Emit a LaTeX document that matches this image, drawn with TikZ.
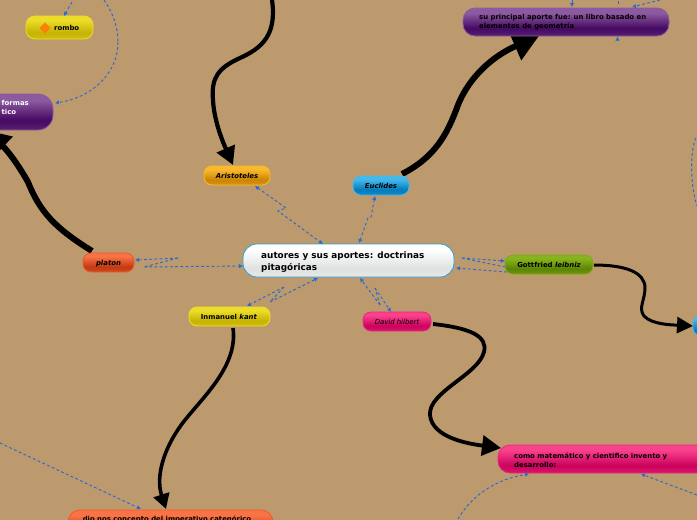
\documentclass[tikz,border=0pt]{standalone}
\usepackage{fontspec}
\setmainfont{DejaVu Sans}
\usetikzlibrary{arrows.meta}
\definecolor{bg}{RGB}{189,154,109}
\definecolor{linkb}{RGB}{40,105,210}
\newcommand{\glossdef}[4]{\pgfdeclareverticalshading{#1}{100bp}{color(0bp)=(#4);color(12bp)=(#4);color(36bp)=(#3);color(40bp)=(#3);color(66bp)=(#2);color(100bp)=(#2)}}
\definecolor{yA}{RGB}{236,222,40}\definecolor{yB}{RGB}{200,180,5}\definecolor{yC}{RGB}{222,205,30}
\definecolor{pA}{RGB}{140,90,160}\definecolor{pB}{RGB}{72,12,100}\definecolor{pC}{RGB}{110,60,130}
\definecolor{oA}{RGB}{250,185,45}\definecolor{oB}{RGB}{205,135,5}\definecolor{oC}{RGB}{235,165,30}
\definecolor{bA}{RGB}{70,185,235}\definecolor{bB}{RGB}{5,125,190}\definecolor{bC}{RGB}{40,160,220}
\definecolor{rA}{RGB}{250,115,70}\definecolor{rB}{RGB}{195,60,20}\definecolor{rC}{RGB}{235,90,45}
\definecolor{gA}{RGB}{135,180,30}\definecolor{gB}{RGB}{95,135,5}\definecolor{gC}{RGB}{125,170,25}
\definecolor{mA}{RGB}{250,65,140}\definecolor{mB}{RGB}{205,5,95}\definecolor{mC}{RGB}{235,40,125}
\definecolor{wA}{RGB}{255,255,255}\definecolor{wB}{RGB}{225,226,226}\definecolor{wC}{RGB}{240,241,241}
\glossdef{shY}{yA}{yB}{yC}\glossdef{shP}{pA}{pB}{pC}\glossdef{shO}{oA}{oB}{oC}\glossdef{shB}{bA}{bB}{bC}
\glossdef{shR}{rA}{rB}{rC}\glossdef{shG}{gA}{gB}{gC}\glossdef{shM}{mA}{mB}{mC}\glossdef{shW}{wA}{wB}{wC}
\tikzset{
 x=1pt,y=-1pt,
 lbl/.style={font=\fontsize{6.9}{9}\selectfont\bfseries,text=black,anchor=west,align=left,inner sep=0pt},
 link/.style={draw=linkb,line width=.95pt,dash pattern=on 2.8pt off 2.4pt,-{Latex[length=4pt,width=4.5pt]}},
 linkboth/.style={link,{Latex[length=4pt,width=4.5pt]}-{Latex[length=4pt,width=4.5pt]}},
 linkplain/.style={draw=linkb,line width=.95pt,dash pattern=on 2.8pt off 2.4pt},
 heavy/.style 2 args={draw=black,line cap=butt,-{Triangle[length=#1,width=#2]}},
}
\newcommand{\pillbox}[8]{% name, x1,y1,x2,y2, radius, shading, border
 \shade[shading=#7,draw=#8,rounded corners=#6,line width=.8pt] (#2,#3) rectangle (#4,#5);
 \coordinate (#1) at ({(#2+#4)/2},{(#3+#5)/2});
}
\begin{document}
\begin{tikzpicture}
\useasboundingbox[fill=bg] (0,0) rectangle (697,520);
\clip (0,0) rectangle (697,520);

% heavy connectors
\coordinate (aristA) at (272,0);\coordinate (aristB) at (233,165);
\draw[heavy={18pt}{19pt},line width=4.2pt] (aristA) .. controls (277,35) and (262,48) .. (240,58) .. controls (218,68) and (211,78) .. (213,100) .. controls (214,120) and (222,140) .. (aristB);
\coordinate (eucA) at (402,174);\coordinate (eucB) at (539,36);
\draw[heavy={26pt}{29pt},line width=6pt] (eucA) .. controls (435,157) and (447,135) .. (458,105) .. controls (470,75) and (495,55) .. (eucB);
\coordinate (plaA) at (92,251);\coordinate (plaB) at (-14,130);
\draw[heavy={24pt}{26pt},line width=6pt] (plaA) .. controls (55,228) and (40,212) .. (28,182) .. controls (20,168) and (10,153) .. (plaB);
\coordinate (kanA) at (233,328);\coordinate (kanB) at (166,509);
\draw[heavy={15pt}{16pt},line width=3.6pt] (kanA) .. controls (238,365) and (205,395) .. (185,420) .. controls (165,445) and (155,475) .. (kanB);
\coordinate (hilA) at (433,324);\coordinate (hilB) at (501,448);
\draw[heavy={19pt}{20pt},line width=3.8pt] (hilA) .. controls (470,328) and (488,336) .. (484,352) .. controls (478,375) and (428,392) .. (430,415) .. controls (432,438) and (470,444) .. (hilB);
\coordinate (leiA) at (594,265);\coordinate (leiB) at (693,326);
\draw[heavy={16pt}{16pt},line width=3pt] (leiA) .. controls (625,265) and (645,272) .. (645,288) .. controls (645,300) and (638,308) .. (644,316) .. controls (652,325) and (675,325) .. (leiB);

% nodes
\pillbox{rombo}{26}{16}{93}{39}{9pt}{shY}{yA}
\pillbox{formas}{-60}{94}{53}{130}{15pt}{shP}{pA}
\pillbox{aporte}{463}{8}{669}{36}{12pt}{shP}{pA}
\pillbox{aris}{204}{166}{270}{185}{8pt}{shO}{oA}
\pillbox{euc}{353}{176}{409}{195}{8pt}{shB}{bA}
\pillbox{central}{243}{244}{454}{277}{14pt}{shW}{bC}
\pillbox{plat}{83}{253}{134}{272}{8pt}{shR}{rC}
\pillbox{leib}{505}{255}{593}{274}{8pt}{shG}{gC}
\pillbox{kant}{189}{307}{270}{326}{8pt}{shY}{yA}
\pillbox{hil}{363}{312}{431}{331}{8pt}{shM}{mC}
\pillbox{cuadro}{498}{445}{720}{473}{12pt}{shM}{mC}
\pillbox{imper}{68}{510}{273}{540}{12pt}{shR}{rC}
\pillbox{rightblue}{693}{315}{720}{336}{8pt}{shB}{bA}

% labels
\node[rotate=45,fill={rgb,255:red,250;green,130;blue,10},minimum size=7.8pt,inner sep=0pt] (diam) at (45,28) {};
\node[lbl] (t1) at (54,28) {rombo};
\node[lbl,text=white] (t2) at (1.5,107.5) {formas\\tico};
\node[lbl] (t3) at (479,22) {su principal aporte fue: un libro basado en\\elementos de geometría};
\node[lbl,anchor=center] (t4) at (237,176) {\itshape Aristoteles};
\node[lbl,anchor=center] (t5) at (381,185.5) {\itshape Euclides};
\node[lbl,font=\fontsize{8.87}{11.5}\selectfont\bfseries] (t6) at (261,262) {autores y sus aportes: doctrinas\\pitagóricas};
\node[lbl,anchor=center] (t7) at (108.5,263.5) {\itshape platon};
\node[lbl,anchor=center] (t8) at (549,264.5) {Gottfried \textit{leibniz}};
\node[lbl,anchor=center] (t9) at (229,316.5) {Inmanuel \textit{kant}};
\node[lbl,anchor=center,font=\fontsize{6.9}{9}\selectfont\itshape] (t10) at (397,321.5) {David hilbert};
\node[lbl] (t11) at (514,460) {como matemático y cientifico invento y\\desarrollo:};
\node[lbl,anchor=center] (t12) at (167,519) {dio nos concepto del imperativo categórico};

% dashed links
\coordinate (c1) at (323,244);\coordinate (c2) at (359,243);\coordinate (c3) at (243,266);
\coordinate (c4) at (318,278);\coordinate (c5) at (360,278);\coordinate (c6) at (462,258);\coordinate (c7) at (456,268);
\coordinate (a1) at (255,186);\coordinate (e1) at (375,196);\coordinate (p1) at (135,260);\coordinate (k1) at (247,306);
\coordinate (h1) at (391,312);\coordinate (l1) at (505,261);
\draw[linkboth] (a1) -- (286,208) -- (278,211) -- (c1);
\draw[linkboth] (e1) -- (371,217) -- (368,218) -- (c2);
\draw[link] (178,258) -- (p1);
\draw[linkplain] (178,258) -- (144,267);
\draw[link] (144,267) -- (c3);
\draw[link] (284,287) -- (k1);
\draw[linkplain] (284,287) -- (270,302);
\draw[link] (270,302) -- (c4);
\draw[link] (380,305) -- (c5);
\draw[linkplain] (380,305) -- (375,288);
\draw[link] (375,288) -- (h1);
\draw[link] (c6) -- (l1);
\draw[linkplain] (c6) -- (505,267);
\draw[link] (507,272) -- (c7);
\coordinate (r1) at (104,0);\coordinate (r2) at (118,42);\coordinate (r3) at (55,103);
\draw[linkplain] (r1) .. controls (113,13) and (118,27) .. (r2);
\draw[link] (r2) .. controls (118,75) and (90,98) .. (r3);
\coordinate (r4) at (72,2);\coordinate (r5) at (64,16);
\draw[link] (r4) -- (r5);
\coordinate (o1) at (0,443);\coordinate (o2) at (141,509);
\draw[link] (o1) -- (o2);
\coordinate (cb1) at (458,519);\coordinate (cb2) at (529,474);
\draw[link] (cb1) .. controls (475,490) and (503,478) .. (cb2);
\coordinate (cb3) at (697,495);\coordinate (cb4) at (641,474);
\draw[link] (cb3) -- (cb4);
\coordinate (tr1) at (572,0);\coordinate (tr2) at (572,7);
\draw[link] (tr1) -- (tr2);
\coordinate (tr3) at (618,1);\coordinate (tr4) at (618,5);
\draw[linkplain] (tr3) -- (tr4);
\coordinate (tr5) at (660,0);\coordinate (tr6) at (632,7);
\draw[link] (tr5) -- (tr6);
\coordinate (tr7) at (617.5,41);\coordinate (tr8) at (617.5,36.5);
\draw[link] (tr7) -- (tr8);
\coordinate (rr1) at (696,138);\coordinate (rr2) at (697,206);
\draw[linkplain] (rr1) .. controls (690,150) and (690,185) .. (rr2);
\end{tikzpicture}
\end{document}
